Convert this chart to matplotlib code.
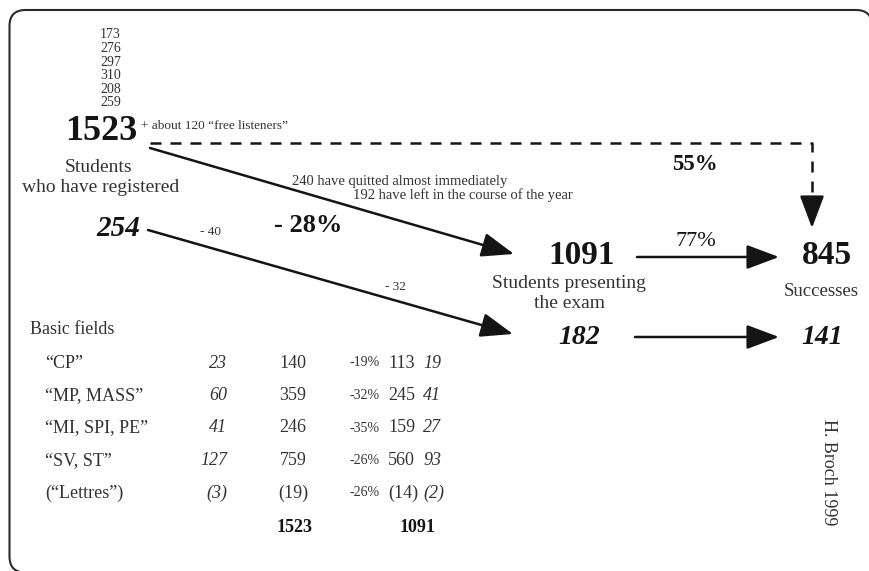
import matplotlib.pyplot as plt
from matplotlib.patches import ArrowStyle, PathPatch
from matplotlib.path import Path

# yearly registrations, totals and flow values
yearly = [173, 276, 297, 310, 208, 259]
registered = 1523
registered_it = 254
presenting = 1091
presenting_it = 182
successes = 845
successes_it = 141

fields = ['\u201cCP\u201d', '\u201cMP, MASS\u201d', '\u201cMI, SPI, PE\u201d', '\u201cSV, ST\u201d', '(\u201cLettres\u201d)']
reg_it = ['23', '60', '41', '127', '(3)']
reg_all = ['140', '359', '246', '759', '(19)']
drop_pct = ['-19%', '-32%', '-35%', '-26%', '-26%']
pres_all = ['113', '245', '159', '560', '(14)']
pres_it = ['19', '41', '27', '93', '(2)']

plt.rcParams['font.family'] = ['Liberation Serif', 'DejaVu Serif']
INK = '#141414'
GREY = '#333333'

fig = plt.figure(figsize=(8.69, 5.71), dpi=100)
ax = fig.add_axes([0, 0, 1, 1])
ax.set_xlim(0, 869)
ax.set_ylim(571, 0)
ax.axis('off')

# frame: rounded corners, right and bottom edges run off the picture
L, T, R, B, r = 9.5, 10, 872, 572.5, 16
verts = [(200, B), (L + r, B), (L, B), (L, B - r), (L, T + r), (L, T), (L + r, T),
         (R - r, T), (R, T), (R, T + r), (R, 560)]
codes = [Path.MOVETO, Path.LINETO, Path.CURVE3, Path.CURVE3, Path.LINETO, Path.CURVE3, Path.CURVE3,
         Path.LINETO, Path.CURVE3, Path.CURVE3, Path.LINETO]
ax.add_patch(PathPatch(Path(verts, codes), fill=False, ec='#2a2a2a', lw=1.5))

head = ArrowStyle('-|>', head_length=0.8, head_width=0.3)


def arrow(x0, y0, x1, y1):
    ax.annotate('', xy=(x1, y1), xytext=(x0, y0),
                arrowprops=dict(arrowstyle=head, mutation_scale=25, color=INK,
                                lw=1.8, shrinkA=0, shrinkB=0))


# yearly numbers
for i, v in enumerate(yearly):
    ax.text(110.5, 35 + i * 13.6, str(v), ha='center', va='center', fontsize=10, color=GREY)

ax.text(101, 131, str(registered), ha='center', va='center', fontsize=26, fontweight='bold', color=INK)
ax.text(141, 126, '+ about 120 \u201cfree listeners\u201d', ha='left', va='center', fontsize=9.5, color=GREY)
ax.text(99, 168, 'Students', ha='center', va='center', fontsize=14, color=GREY)
ax.text(101, 188, 'who have registered', ha='center', va='center', fontsize=14, color=GREY)

# dashed path to successes
ax.plot([150, 812, 812], [143, 143, 202], ls=(0, (4.4, 3.6)), color=INK, lw=1.8)
arrow(812, 199, 812, 228)
ax.text(695, 165, '55%', ha='center', va='center', fontsize=16.5, fontweight='bold', color=INK)

# registered -> presenting
arrow(150, 148, 514, 254)
ax.text(292, 182, '240 have quitted almost immediately', ha='left', va='center', fontsize=10.5, color=GREY)
ax.text(353, 195, '192 have left in the course of the year', ha='left', va='center', fontsize=10.5, color=GREY)
ax.text(308, 226, '- 28%', ha='center', va='center', fontsize=19, fontweight='bold', color=INK)

ax.text(118, 228, str(registered_it), ha='center', va='center', fontsize=21,
        fontweight='bold', fontstyle='italic', color=INK)
arrow(148, 230, 513, 334)
ax.text(210, 232, '- 40', ha='center', va='center', fontsize=9.5, color=GREY)
ax.text(395, 287, '- 32', ha='center', va='center', fontsize=9.5, color=GREY)

ax.text(582, 255, str(presenting), ha='center', va='center', fontsize=24, fontweight='bold', color=INK)
ax.text(569, 284, 'Students presenting', ha='center', va='center', fontsize=14, color=GREY)
ax.text(570, 304, 'the exam', ha='center', va='center', fontsize=14, color=GREY)

arrow(637, 257, 779, 257)
ax.text(696, 241, '77%', ha='center', va='center', fontsize=16, color=INK)
ax.text(827, 255, str(successes), ha='center', va='center', fontsize=24, fontweight='bold', color=INK)
ax.text(821, 291, 'Successes', ha='center', va='center', fontsize=13.5, color=GREY)

ax.text(579, 337, str(presenting_it), ha='center', va='center', fontsize=20,
        fontweight='bold', fontstyle='italic', color=INK)
arrow(635, 337, 779, 337)
ax.text(822, 337, str(successes_it), ha='center', va='center', fontsize=20,
        fontweight='bold', fontstyle='italic', color=INK)

# table
ax.text(30, 330, 'Basic fields', ha='left', va='center', fontsize=13, color=GREY)
for i in range(len(fields)):
    y = 363 + i * 32.5
    ax.text(45, y, fields[i], ha='left', va='center', fontsize=13, color=GREY)
    ax.text(227, y, reg_it[i], ha='right', va='center', fontsize=13, fontstyle='italic', color=GREY)
    ax.text(293, y, reg_all[i], ha='center', va='center', fontsize=13, color=GREY)
    ax.text(365, y, drop_pct[i], ha='center', va='center', fontsize=10, color=GREY)
    ax.text(388, y, pres_all[i], ha='left', va='center', fontsize=13, color=GREY)
    ax.text(423, y, pres_it[i], ha='left', va='center', fontsize=13, fontstyle='italic', color=GREY)
ax.text(295, 528, str(registered), ha='center', va='center', fontsize=13, fontweight='bold', color=INK)
ax.text(400, 528, str(presenting), ha='left', va='center', fontsize=13, fontweight='bold', color=INK)

ax.text(828, 472, 'H. Broch 1999', ha='center', va='center', rotation=-90, fontsize=13, color=GREY)

fig.savefig('out.png', dpi=100)
